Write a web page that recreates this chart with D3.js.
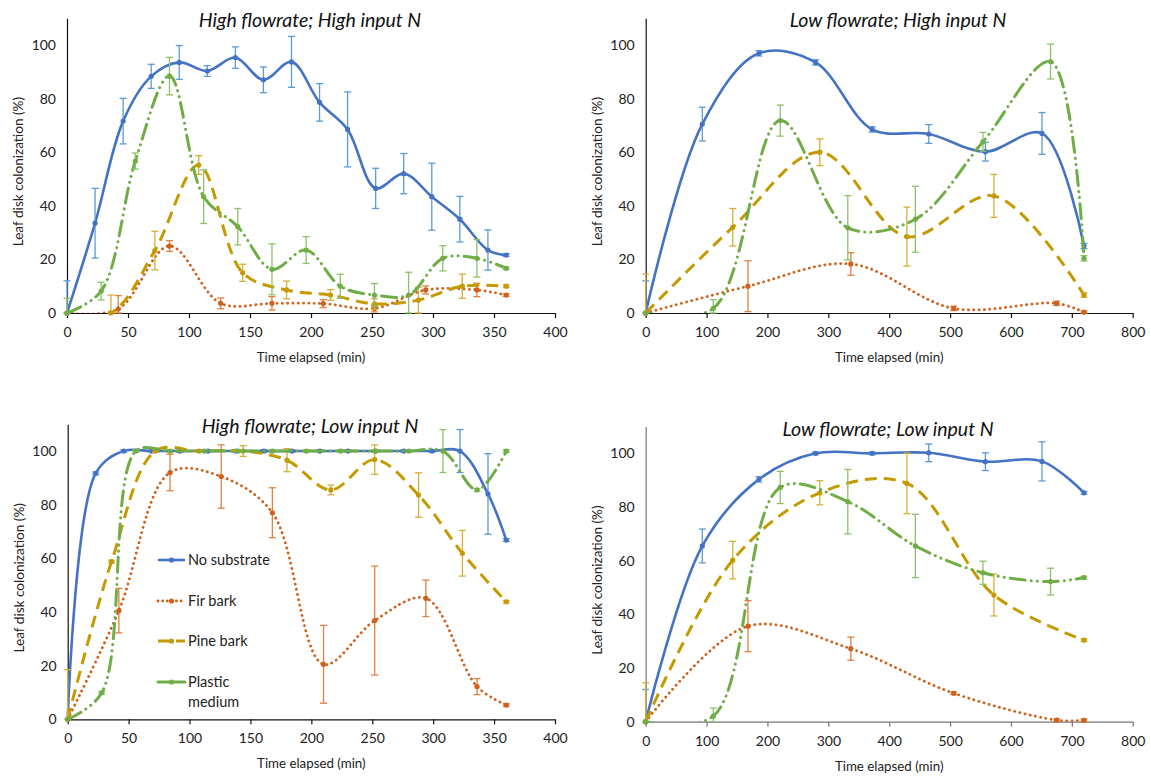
<!DOCTYPE html>
<html>
<head>
<meta charset="utf-8">
<script src="https://cdn.jsdelivr.net/npm/d3@7"></script>
<style>
body { margin: 0; background: #fff; }
svg { font-family: Lato, "Open Sans", sans-serif; }
</style>
</head>
<body>
<svg class="chart" width="1151" height="779"></svg>
<script>
// ---- High flowrate; High input N ----
let hhTimeNone = [0, 23, 46, 69, 92, 115, 138, 161, 184, 207, 230, 253, 276, 299, 322, 345, 360];
let hhNone     = [0, 33.5, 71.6, 88.3, 93.5, 90.3, 95.3, 87, 93.7, 78.6, 68.5, 46.5, 52, 43.4, 35, 23.5, 21.6];
let hhNoneErr  = [12, 13, 8.5, 4.5, 6.3, 2, 4, 4.8, 9.5, 7, 14, 7.5, 7.5, 12.5, 8.5, 7.5, 0.5];
let hhTimeFir  = [0, 42, 84, 126, 168, 210, 252, 294, 336, 360];
let hhFir      = [0, 1.5, 25, 3.6, 3.6, 3.5, 1.7, 8.6, 8.6, 6.7];
let hhFirErr   = [0, 5, 2, 2, 2.5, 1.5, 1.3, 1.5, 2.5, 0.5];
let hhTimePine = [0, 36, 72, 108, 144, 180, 216, 252, 288, 324, 360];
let hhPine     = [0, 0, 23.3, 55.2, 15, 8.6, 6.7, 3.4, 4.8, 10, 10];
let hhPineErr  = [0, 6.7, 7.2, 3.5, 3.2, 3.3, 2, 2, 4.8, 4.5, 0.5];
let hhTimePlastic = [0, 28, 56, 84, 112, 140, 168, 196, 224, 252, 280, 308, 336, 360];
let hhPlastic     = [0, 8.2, 56.7, 88.4, 43.4, 32.2, 16.3, 23.5, 10, 6.7, 6.7, 20.4, 20.4, 16.7];
let hhPlasticErr  = [5.5, 3.3, 3, 7, 10, 6.8, 9.5, 5, 4.5, 4.3, 8.5, 4.7, 7, 0.5];

// ---- Low flowrate; High input N ----
let lhTimeNone = [0, 93, 186, 279, 372, 465, 558, 651, 720];
let lhNone     = [0, 70.5, 96.9, 93.5, 68.5, 66.8, 60.2, 67, 25];
let lhNoneErr  = [12, 6.3, 1, 1, 1, 3.5, 3.5, 7.8, 1];
let lhTimeFir  = [0, 168, 337, 506, 675, 720];
let lhFir      = [0, 10, 18.3, 1.7, 3.6, 0.3];
let lhFirErr   = [0, 9.5, 4.2, 0.8, 0.8, 0.5];
let lhTimePine = [0, 143, 286, 429, 572, 720];
let lhPine     = [0, 32, 60, 28.5, 43.7, 6.7];
let lhPineErr  = [14.5, 7, 5, 11, 8, 0.8];
let lhTimePlastic = [0, 111, 221, 332, 443, 554, 665, 720];
let lhPlastic     = [0, 1.7, 71.8, 31.8, 35, 63.9, 93.8, 20.4];
let lhPlasticErr  = [0, 3.3, 5.8, 12, 12.3, 3.5, 6.5, 1];

// ---- High flowrate; Low input N ----
let hlTimeNone = [0, 23, 46, 69, 92, 115, 138, 161, 184, 207, 230, 253, 276, 299, 322, 345, 360];
let hlNone     = [0, 91.7, 100, 100, 100, 100, 100, 100, 100, 100, 100, 100, 100, 100, 100, 84, 66.8];
let hlNoneErr  = [0, 0.5, 0.5, 0.5, 0.5, 0.5, 0.5, 0.5, 0.5, 0.5, 0.5, 0.5, 0.5, 0.5, 8, 15, 0.5];
let hlTimeFir  = [0, 42, 84, 126, 168, 210, 252, 294, 336, 360];
let hlFir      = [0, 40.5, 92, 90.5, 77, 20.5, 36.8, 45.1, 12.2, 5.3];
let hlFirErr   = [0, 8.3, 6.8, 11.8, 9.3, 14.5, 20.3, 6.8, 3, 0.5];
let hlTimePine = [0, 36, 72, 108, 144, 180, 216, 252, 288, 324, 360];
let hlPine     = [0, 58.8, 100, 100, 100, 96.6, 85.5, 96.8, 83.6, 61.9, 43.8];
let hlPineErr  = [18.5, 0.5, 0.5, 0.5, 2, 4.3, 1.8, 5.5, 8.3, 8.5, 0.5];
let hlTimePlastic = [0, 28, 56, 84, 112, 140, 168, 196, 224, 252, 280, 308, 336, 360];
let hlPlastic     = [0, 9.9, 100, 100, 100, 100, 100, 100, 100, 100, 100, 100, 85.5, 100];
let hlPlasticErr  = [0, 0.5, 0.5, 0.5, 0.5, 0.5, 0.5, 0.5, 0.5, 0.5, 0.5, 8, 0.5, 0.5];

// ---- Low flowrate; Low input N ----
let llTimeNone = [0, 93, 186, 279, 372, 465, 558, 651, 720];
let llNone     = [0, 65.5, 90.3, 100, 100, 100.2, 96.9, 97, 85.3];
let llNoneErr  = [12, 6.3, 1, 0.5, 0.5, 3.3, 3.3, 7.3, 0.5];
let llTimeFir  = [0, 168, 337, 506, 675, 720];
let llFir      = [0, 35.6, 27.2, 10.6, 0.6, 0.5];
let llFirErr   = [0, 9.5, 4.3, 0.5, 0.5, 0.5];
let llTimePine = [0, 143, 286, 429, 572, 720];
let llPine     = [0, 60.2, 85.3, 88.8, 47.2, 30.4];
let llPineErr  = [14.5, 7, 4.5, 11.3, 7.8, 0.5];
let llTimePlastic = [0, 111, 221, 332, 443, 554, 665, 720];
let llPlastic     = [0, 2.1, 87.3, 82, 65.5, 55.5, 52.2, 53.7];
let llPlasticErr  = [0, 3, 6, 12, 11.8, 4.3, 5, 0.5];

let seriesNames = ["No substrate", "Fir bark", "Pine bark", "Plastic medium"];
let yTicks = [0, 20, 40, 60, 80, 100];

// line looks for each substrate
let styles = [
	{ color: "#4472C4", err: "#5B9BD5", width: 2.6, dash: null, cap: "butt" },
	{ color: "#D0601A", err: "#E0803F", width: 2.8, dash: "0.1 5.2", cap: "round" },
	{ color: "#C49A00", err: "#D6AE3A", width: 3, dash: "12 7", cap: "butt" },
	{ color: "#70AD47", err: "#8CC168", width: 3, dash: "15 6 0.1 6 0.1 6", cap: "round" }
];

var svg = d3.select(".chart");
let panelCount = 0;

function drawPanel(p) {
	var xScale = d3.scaleLinear().domain([0, p.xMax]).range([p.left, p.right]);
	var yScale = d3.scaleLinear().domain([0, 110]).range([p.bottom, p.top]);

	let g = svg.append("g");
	let clipId = "clip" + (panelCount++);
	g.append("clipPath").attr("id", clipId)
	 .append("rect")
	 .attr("x", p.left - 5).attr("y", p.top - 10)
	 .attr("width", p.right - p.left + 10).attr("height", p.bottom - p.top + 10);

	// axes
	let xAxis = g.append("g")
		.attr("transform", `translate(0, ${p.bottom})`)
		.call(d3.axisBottom(xScale).tickValues(d3.range(0, p.xMax + 1, p.xStep)).tickSize(5).tickSizeOuter(0).tickPadding(9));
	xAxis.selectAll("path, line").attr("stroke", p.axisColor).attr("stroke-width", 1.2);
	xAxis.selectAll("text").attr("font-size", 14).attr("fill", "#222").attr("font-family", "Lato, sans-serif");

	let yAxis = g.append("g")
		.attr("transform", `translate(${p.left}, 0)`)
		.call(d3.axisLeft(yScale).tickValues(yTicks).tickSize(0).tickSizeOuter(0).tickPadding(11));
	yAxis.selectAll("path").attr("stroke", p.axisColor).attr("stroke-width", 1.2);
	yAxis.selectAll("text").attr("font-size", 14).attr("fill", "#222").attr("font-family", "Lato, sans-serif");

	// titles
	g.append("text")
	 .attr("x", p.titleX)
	 .attr("y", p.top + 9)
	 .attr("text-anchor", "middle")
	 .attr("font-size", 19.5)
	 .attr("font-style", "italic")
	 .attr("fill", "#111")
	 .text(p.title);

	g.append("text")
	 .attr("x", (p.left + p.right) / 2)
	 .attr("y", p.bottom + 49)
	 .attr("text-anchor", "middle")
	 .attr("font-size", 13.3)
	 .attr("fill", "#222")
	 .text("Time elapsed (min)");

	g.append("text")
	 .attr("transform", `translate(${p.left - 44}, ${(p.bottom + p.top) / 2 + 6}) rotate(-90)`)
	 .attr("text-anchor", "middle")
	 .attr("font-size", 13.6)
	 .attr("fill", "#222")
	 .text("Leaf disk colonization (%)");

	let line = d3.line()
		.x(d => xScale(d[0]))
		.y(d => yScale(d[1]))
		.curve(d3.curveCatmullRom.alpha(0.5));

	for (let i = 0; i < p.series.length; i++) {
		let s = p.series[i];
		let st = styles[i];
		let pts = s.t.map((t, k) => [t, s.v[k], s.e[k]]);

		g.append("path")
		 .datum(pts)
		 .attr("clip-path", `url(#${clipId})`)
		 .attr("fill", "none")
		 .attr("stroke", st.color)
		 .attr("stroke-width", st.width)
		 .attr("stroke-linecap", st.cap)
		 .attr("stroke-dasharray", st.dash)
		 .attr("d", line);

		// error bars
		pts.filter(d => d[2] > 0).forEach(d => {
			let x = xScale(d[0]);
			let y1 = yScale(d[1] + d[2]);
			let y2 = yScale(Math.max(0, d[1] - d[2]));
			g.append("line").attr("x1", x).attr("x2", x).attr("y1", y1).attr("y2", y2)
			 .attr("stroke", st.err).attr("stroke-width", 1.3);
			g.append("line").attr("x1", x - 3.5).attr("x2", x + 3.5).attr("y1", y1).attr("y2", y1)
			 .attr("stroke", st.err).attr("stroke-width", 1.3);
			g.append("line").attr("x1", x - 3.5).attr("x2", x + 3.5).attr("y1", y2).attr("y2", y2)
			 .attr("stroke", st.err).attr("stroke-width", 1.3);
		});

		g.selectAll(null)
		 .data(pts)
		 .enter()
		 .append("circle")
		 .attr("cx", d => xScale(d[0]))
		 .attr("cy", d => yScale(d[1]))
		 .attr("r", 2.6)
		 .attr("fill", st.color);
	}
}

drawPanel({
	title: "High flowrate; High input N", titleX: 310,
	left: 67, right: 555, top: 18.2, bottom: 313, xMax: 400, xStep: 50, axisColor: "#111",
	series: [
		{ t: hhTimeNone, v: hhNone, e: hhNoneErr },
		{ t: hhTimeFir, v: hhFir, e: hhFirErr },
		{ t: hhTimePine, v: hhPine, e: hhPineErr },
		{ t: hhTimePlastic, v: hhPlastic, e: hhPlasticErr }
	]
});

drawPanel({
	title: "Low flowrate; High input N", titleX: 898,
	left: 645.7, right: 1132.7, top: 18.2, bottom: 313, xMax: 800, xStep: 100, axisColor: "#111",
	series: [
		{ t: lhTimeNone, v: lhNone, e: lhNoneErr },
		{ t: lhTimeFir, v: lhFir, e: lhFirErr },
		{ t: lhTimePine, v: lhPine, e: lhPineErr },
		{ t: lhTimePlastic, v: lhPlastic, e: lhPlasticErr }
	]
});

drawPanel({
	title: "High flowrate; Low input N", titleX: 310,
	left: 67.7, right: 555, top: 424.2, bottom: 719.3, xMax: 400, xStep: 50, axisColor: "#111",
	series: [
		{ t: hlTimeNone, v: hlNone, e: hlNoneErr },
		{ t: hlTimeFir, v: hlFir, e: hlFirErr },
		{ t: hlTimePine, v: hlPine, e: hlPineErr },
		{ t: hlTimePlastic, v: hlPlastic, e: hlPlasticErr }
	]
});

drawPanel({
	title: "Low flowrate; Low input N", titleX: 888,
	left: 645.7, right: 1132.7, top: 426.5, bottom: 721.7, xMax: 800, xStep: 100, axisColor: "#777",
	series: [
		{ t: llTimeNone, v: llNone, e: llNoneErr },
		{ t: llTimeFir, v: llFir, e: llFirErr },
		{ t: llTimePine, v: llPine, e: llPineErr },
		{ t: llTimePlastic, v: llPlastic, e: llPlasticErr }
	]
});

// legend inside the bottom-left panel
let legend = svg.append("g");
let legendY = [560, 601, 641, 682];
for (let i = 0; i < seriesNames.length; i++) {
	let st = styles[i];
	legend.append("line")
	 .attr("x1", 158).attr("x2", 185)
	 .attr("y1", legendY[i]).attr("y2", legendY[i])
	 .attr("stroke", st.color)
	 .attr("stroke-width", st.width)
	 .attr("stroke-linecap", st.cap)
	 .attr("stroke-dasharray", i == 2 ? "12 6" : (i == 1 ? "0.1 4.5" : null));
	legend.append("circle")
	 .attr("cx", 171.5).attr("cy", legendY[i]).attr("r", 2.6)
	 .attr("fill", st.color);
	let words = i == 3 ? ["Plastic", "medium"] : [seriesNames[i]];
	words.forEach((w, k) => {
		legend.append("text")
		 .attr("x", 188)
		 .attr("y", legendY[i] + 5 + k * 20)
		 .attr("font-size", 14.5)
		 .attr("fill", "#222")
		 .text(w);
	});
}
</script>
</body>
</html>
